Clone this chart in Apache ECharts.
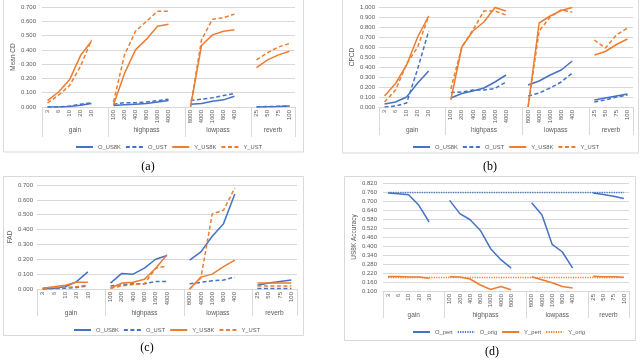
<!DOCTYPE html>
<html><head><meta charset="utf-8">
<script src="https://cdn.jsdelivr.net/npm/echarts@6/dist/echarts.min.js"></script>
<style>html,body{margin:0;padding:0;background:#fff}#c{width:640px;height:360px}</style>
</head><body><div id="c"></div>
<script>
// ---------- categories ----------
const groupNames = ['gain', 'highpass', 'lowpass', 'reverb'];
const gainLevels = ['3', '6', '10', '20', '30'];
const highpassLevels = ['100', '200', '400', '800', '1600', '4000'];
const highpassLevelsAcc = ['100', '200', '400', '800', '1600', '4000', '8000'];
const lowpassLevels = ['8000', '4000', '1600', '800', '400'];
const reverbLevels = ['25', '50', '75', '100'];

// ---------- (a) Mean CD ----------
const cdO_US8K = [[0.000, 0.000, 0.003, 0.012, 0.025], [0.010, 0.015, 0.020, 0.025, 0.035, 0.045], [0.020, 0.025, 0.040, 0.050, 0.075], [0.000, 0.002, 0.004, 0.007]];
const cdO_UST  = [[0.000, 0.000, 0.006, 0.020, 0.030], [0.020, 0.030, 0.030, 0.035, 0.045, 0.055], [0.045, 0.055, 0.065, 0.080, 0.095], [0.001, 0.003, 0.005, 0.008]];
const cdY_US8K = [[0.045, 0.105, 0.190, 0.360, 0.460], [0.015, 0.235, 0.400, 0.475, 0.565, 0.580], [0.000, 0.430, 0.505, 0.530, 0.540], [0.275, 0.330, 0.365, 0.390]];
const cdY_UST  = [[0.028, 0.082, 0.150, 0.285, 0.470], [0.035, 0.365, 0.530, 0.600, 0.670, 0.670], [0.000, 0.470, 0.615, 0.625, 0.650], [0.330, 0.380, 0.420, 0.445]];

// ---------- (b) CPCD ----------
const cpO_US8K = [[0.030, 0.050, 0.100, 0.240, 0.360], [0.090, 0.135, 0.160, 0.190, 0.250, 0.320], [0.220, 0.260, 0.320, 0.370, 0.460], [0.070, 0.090, 0.110, 0.130]];
const cpO_UST  = [[0.000, 0.010, 0.040, 0.380, 0.760], [0.145, 0.150, 0.170, 0.170, 0.185, 0.250], [0.110, 0.140, 0.190, 0.250, 0.340], [0.050, 0.070, 0.100, 0.120]];
const cpY_US8K = [[0.110, 0.235, 0.420, 0.700, 0.910], [0.070, 0.600, 0.760, 0.850, 0.995, 0.960], [0.000, 0.840, 0.910, 0.965, 0.995], [0.520, 0.555, 0.625, 0.680]];
const cpY_UST  = [[0.050, 0.170, 0.430, 0.600, 0.910], [0.180, 0.600, 0.770, 0.960, 0.960, 0.920], [0.000, 0.760, 0.900, 0.970, 0.950], [0.670, 0.590, 0.720, 0.790]];

// ---------- (c) FAD ----------
const faO_US8K = [[0.000, 0.005, 0.015, 0.050, 0.115], [0.040, 0.105, 0.100, 0.140, 0.200, 0.225], [0.195, 0.250, 0.355, 0.440, 0.640], [0.025, 0.040, 0.050, 0.060]];
const faO_UST  = [[0.000, 0.003, 0.005, 0.010, 0.020], [0.020, 0.030, 0.035, 0.035, 0.050, 0.050], [0.035, 0.045, 0.055, 0.060, 0.080], [0.003, 0.003, 0.003, 0.003]];
const faY_US8K = [[0.005, 0.015, 0.025, 0.045, 0.045], [0.005, 0.040, 0.045, 0.065, 0.140, 0.230], [0.000, 0.080, 0.100, 0.150, 0.195], [0.040, 0.040, 0.040, 0.040]];
const faY_UST  = [[0.005, 0.010, 0.010, 0.015, 0.025], [0.005, 0.020, 0.030, 0.035, 0.140, 0.155], [0.000, 0.075, 0.505, 0.530, 0.680], [0.020, 0.020, 0.020, 0.020]];

// ---------- (d) US8K Accuracy ----------
const acO_pert = [[0.753, 0.749, 0.742, 0.671, 0.560], [0.704, 0.616, 0.575, 0.504, 0.382, 0.309, 0.253], [0.689, 0.609, 0.411, 0.360, 0.253], [0.753, 0.744, 0.731, 0.716]];
const acO_orig = [[0.757, 0.757, 0.757, 0.757, 0.757], [0.757, 0.757, 0.757, 0.757, 0.757, 0.757, 0.757], [0.757, 0.757, 0.757, 0.757, 0.757], [0.757, 0.757, 0.757, 0.757]];
const acY_pert = [[0.197, 0.196, 0.194, 0.194, 0.185], [0.195, 0.193, 0.180, 0.140, 0.110, 0.130, 0.108], [0.195, 0.175, 0.155, 0.130, 0.120], [0.198, 0.195, 0.195, 0.192]];
const acY_orig = [[0.190, 0.190, 0.190, 0.190, 0.190], [0.190, 0.190, 0.190, 0.190, 0.190, 0.190, 0.190], [0.190, 0.190, 0.190, 0.190, 0.190], [0.190, 0.190, 0.190, 0.190]];

// ---------- helpers ----------
function cats(groups) { const o = []; groups.forEach((g, i) => { o.push(...g); if (i < groups.length - 1) o.push(''); }); return o; }
function flat(vals) { const o = []; vals.forEach((g, i) => { o.push(...g); if (i < vals.length - 1) o.push(null); }); return o; }
function bounds(groups) { const b = [0]; let s = 0; groups.forEach((g, i) => { s += g.length + (i < groups.length - 1 ? 1 : 0); b.push(s); }); return b; }
function centers(b) { return b.slice(0, -1).map((v, i) => (v + b[i + 1]) / 2); }

const BLUE = '#4472C4', ORANGE = '#ED7D31', GRID = '#d9d9d9', TXT = '#595959';
const FONT = 'Liberation Sans, Arial, sans-serif';

const groupsStd = [gainLevels, highpassLevels, lowpassLevels, reverbLevels];
const groupsAcc = [gainLevels, highpassLevelsAcc, lowpassLevels, reverbLevels];

const panels = [
  { grid: { left: 42, top: 7, width: 253, height: 100 }, groups: groupsStd, min: 0, max: 0.7, interval: 0.1, name: 'Mean CD', nameGap: 23, labelMargin: 6, tickLen: 30, groupMargin: 20,
    legend: { left: 70, top: 139 },
    series: [['O_US8K', cdO_US8K, BLUE, 'solid'], ['O_UST', cdO_UST, BLUE, [4, 2.5]], ['Y_US8K', cdY_US8K, ORANGE, 'solid'], ['Y_UST', cdY_UST, ORANGE, [4, 2.5]]] },
  { grid: { left: 379, top: 7, width: 254, height: 100 }, groups: groupsStd, min: 0, max: 1, interval: 0.1, name: 'CPCD', nameGap: 23, labelMargin: 4, tickLen: 28, groupMargin: 20,
    legend: { left: 407, top: 139 },
    series: [['O_US8K', cpO_US8K, BLUE, 'solid'], ['O_UST', cpO_UST, BLUE, [4, 2.5]], ['Y_US8K', cpY_US8K, ORANGE, 'solid'], ['Y_UST', cpY_UST, ORANGE, [4, 2.5]]] },
  { grid: { left: 37, top: 185, width: 260, height: 104 }, groups: groupsStd, min: 0, max: 0.7, interval: 0.1, name: 'FAD', nameGap: 22, labelMargin: 4, tickLen: 27, groupMargin: 21,
    legend: { left: 68, top: 322 },
    series: [['O_US8K', faO_US8K, BLUE, 'solid'], ['O_UST', faO_UST, BLUE, [4, 2.5]], ['Y_US8K', faY_US8K, ORANGE, 'solid'], ['Y_UST', faY_UST, ORANGE, [4, 2.5]]] },
  { grid: { left: 383, top: 183, width: 246, height: 108 }, groups: groupsAcc, min: 0.1, max: 0.82, interval: 0.06, name: 'US8K Accuracy', nameGap: 19, labelMargin: 6, tickLen: 27, groupMargin: 21,
    legend: { left: 407, top: 324 },
    series: [['O_pert', acO_pert, BLUE, 'solid'], ['O_orig', acO_orig, BLUE, [1.2, 1.2], true], ['Y_pert', acY_pert, ORANGE, 'solid'], ['Y_orig', acY_orig, ORANGE, [1.2, 1.2], true]] }
];

const option = { animation: false, textStyle: { fontFamily: FONT }, grid: [], xAxis: [], yAxis: [], series: [], legend: [],
  graphic: [
    { type: 'rect', shape: { x: 3.5, y: -5, width: 300, height: 157 }, style: { fill: 'none', stroke: GRID, lineWidth: 1 } },
    { type: 'rect', shape: { x: 342.5, y: -5, width: 296, height: 158 }, style: { fill: 'none', stroke: GRID, lineWidth: 1 } },
    { type: 'rect', shape: { x: 3.5, y: 176.5, width: 300, height: 159 }, style: { fill: 'none', stroke: GRID, lineWidth: 1 } },
    { type: 'rect', shape: { x: 344.5, y: 176.5, width: 291, height: 164 }, style: { fill: 'none', stroke: GRID, lineWidth: 1 } },
    { type: 'text', x: 148, y: 167, style: { text: '(a)', font: '12px "Liberation Serif", serif', fill: '#000', align: 'center', verticalAlign: 'middle' } },
    { type: 'text', x: 490, y: 167, style: { text: '(b)', font: '12px "Liberation Serif", serif', fill: '#000', align: 'center', verticalAlign: 'middle' } },
    { type: 'text', x: 147, y: 348, style: { text: '(c)', font: '12px "Liberation Serif", serif', fill: '#000', align: 'center', verticalAlign: 'middle' } },
    { type: 'text', x: 492, y: 352, style: { text: '(d)', font: '12px "Liberation Serif", serif', fill: '#000', align: 'center', verticalAlign: 'middle' } }
  ] };

panels.forEach((p, pi) => {
  option.grid.push(p.grid);
  const b = bounds(p.groups), c = centers(b);
  option.xAxis.push({ type: 'category', gridIndex: pi, data: cats(p.groups), boundaryGap: true,
    axisLine: { lineStyle: { color: GRID, width: 1 } }, axisTick: { show: false },
    axisLabel: { rotate: 90, interval: 0, fontSize: 6, color: TXT, margin: 3, fontFamily: FONT } });
  option.xAxis.push({ type: 'value', gridIndex: pi, position: 'bottom', min: 0, max: b[b.length - 1],
    axisLine: { show: false }, splitLine: { show: false },
    axisTick: { show: true, customValues: b, length: p.tickLen, lineStyle: { color: GRID, width: 1 } },
    axisLabel: { show: true, customValues: c, margin: p.groupMargin, fontSize: 6.5, color: TXT, fontFamily: FONT,
      formatter: v => { const i = c.findIndex(x => Math.abs(x - v) < 1e-6); return i >= 0 ? groupNames[i] : ''; } } });
  option.yAxis.push({ type: 'value', gridIndex: pi, min: p.min, max: p.max, interval: p.interval,
    name: p.name, nameLocation: 'middle', nameGap: p.nameGap, nameTextStyle: { fontSize: 6.5, color: TXT, fontFamily: FONT },
    axisLine: { show: false }, axisTick: { show: false },
    axisLabel: { fontSize: 6, color: TXT, margin: p.labelMargin, fontFamily: FONT, formatter: v => v.toFixed(3) },
    splitLine: { lineStyle: { color: GRID, width: 1 } } });
  p.series.forEach(s => {
    option.series.push({ name: s[0], type: 'line', xAxisIndex: pi * 2, yAxisIndex: pi, data: flat(s[1]),
      symbol: 'none', connectNulls: !!s[4], color: s[2],
      lineStyle: { color: s[2], width: 1.5, type: s[3] } });
  });
  option.legend.push({ data: p.series.map(s => s[0]), left: p.legend.left, top: p.legend.top, itemWidth: 17, itemHeight: 6, itemGap: 4,
    itemStyle: { opacity: 0, borderWidth: 0 },
    textStyle: { fontSize: 5.8, color: TXT, fontFamily: FONT }, selectedMode: false });
});

const chart = echarts.init(document.getElementById('c'), null, { renderer: 'canvas' });
chart.setOption(option);
</script></body></html>
